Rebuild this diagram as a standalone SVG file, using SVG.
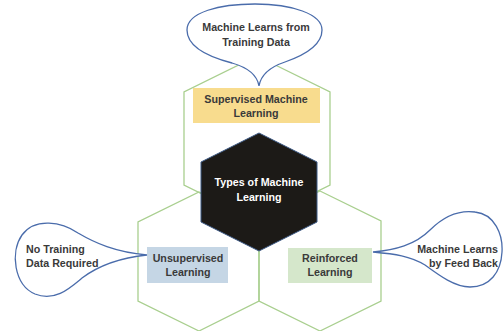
<svg xmlns="http://www.w3.org/2000/svg" width="503" height="331" viewBox="0 0 503 331">
<style>
.hex{fill:none;stroke:#a9cf8f;stroke-width:1.3}
.bub{fill:#ffffff;stroke:#4a6cab;stroke-width:1.3}
.t{font-family:"Liberation Sans",Arial,sans-serif;font-weight:bold;font-size:10.7px;fill:#3a3a3a}
.c{text-anchor:middle}
.w{fill:#ffffff}
</style>
<rect x="0" y="0" width="503" height="331" fill="#ffffff"/>
<g id="hex-supervised">
<polygon class="hex" points="257,56 330,92 330,185 257,221 184,185 184,92"/>
</g>
<g id="hex-unsupervised">
<polygon class="hex" points="199,192 259,222 259,301 199,331 138,301 138,222"/>
</g>
<g id="hex-reinforced">
<polygon class="hex" points="320,191 381,221 381,301 320,331 259,301 259,221"/>
</g>
<g id="center">
<polygon points="259,133 317,162 317,222 259,251 201,222 201,162" fill="#1c1a17" stroke="#3d5a86" stroke-width="1"/>
<text class="t c w" x="259" y="186">Types of Machine</text>
<text class="t c w" x="259" y="201">Learning</text>
</g>
<g id="supervised">
<rect x="193" y="88" width="127" height="35" fill="#f8dc8e"/>
<text class="t c" x="256" y="103">Supervised Machine</text>
<text class="t c" x="256" y="117">Learning</text>
</g>
<g id="unsupervised">
<rect x="147" y="247" width="81" height="36" fill="#c5d6e5"/>
<text class="t c" x="188" y="262">Unsupervised</text>
<text class="t c" x="188" y="276">Learning</text>
</g>
<g id="reinforced">
<rect x="288" y="248" width="84" height="35" fill="#d5e7cb"/>
<text class="t c" x="330" y="262">Reinforced</text>
<text class="t c" x="330" y="276">Learning</text>
</g>
<g id="callout-top">
<path class="bub" d="M259,86 C257,74 246,67 232,63 C205,56 187,45 187,30 C187,12 220,4 255,4 C292,4 322,14 322,30 C322,45 305,55 285,62 C270,67 261,74 259,86 Z"/>
<text class="t c" x="256" y="31">Machine Learns from</text>
<text class="t c" x="256" y="46">Training Data</text>
</g>
<g id="callout-left">
<path class="bub" d="M147,255 C115,252 95,243 78,233 C62,222 35,217 22,235 C10,252 14,285 35,294 C55,302 70,288 82,278 C98,266 118,258 147,255 Z"/>
<text class="t" x="26" y="253">No Training</text>
<text class="t" x="26" y="267">Data Required</text>
</g>
<g id="callout-right">
<path class="bub" d="M373,252 C395,250 415,245 430,230 C445,215 460,210 475,212 C495,214 503,235 502,252 C501,272 490,287 470,287 C455,287 440,276 425,265 C410,256 395,254 373,252 Z"/>
<text class="t" x="498" y="253" text-anchor="end">Machine Learns</text>
<text class="t" x="498" y="267" text-anchor="end">by Feed Back</text>
</g>
<g id="connectors"></g>
</svg>
